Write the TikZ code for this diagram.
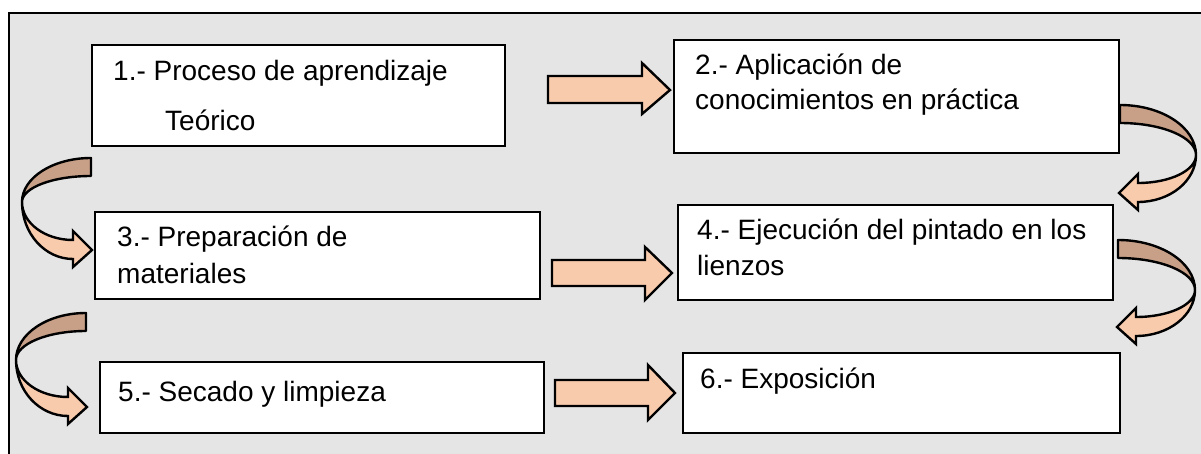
\documentclass[tikz,border=0pt]{standalone}
\usepackage{fontspec}
\setmainfont{Liberation Sans}
\definecolor{bg}{HTML}{E5E5E5}
\definecolor{peach}{HTML}{F8CBAD}
\definecolor{tan}{HTML}{C8A087}
\tikzset{
  frame/.style={draw=black, line width=2pt, fill=bg},
  box/.style={draw=black, line width=2.6pt, fill=white, inner sep=0pt},
  txt/.style={anchor=base west, inner sep=0pt, font=\fontsize{28}{33}\selectfont},
  blockarrow/.style={draw=black, line width=2.4pt, fill=peach, line join=miter},
  backband/.style={draw=black, line width=2.4pt, fill=tan, line join=round},
  frontband/.style={draw=black, line width=2.4pt, fill=peach, line join=miter}
}
% curved block arrow: #1,#2 origin (top outer end), #3 direction (1 = right, -1 = left), #4 width, #5 apex depth, #6 tip depth
\newcommand\curvedblock[6]{%
  \begin{scope}[shift={(#1,#2)}, xscale=#3]
    \pgfmathsetmacro\W{#4}\pgfmathsetmacro\A{#5}\pgfmathsetmacro\D{#6}
    \pgfmathsetmacro\T{18}\pgfmathsetmacro\hb{18}
    \pgfmathsetmacro\Bone{\D-10}\pgfmathsetmacro\Btwo{\D+9}
    \pgfmathsetmacro\Hone{\D-19}\pgfmathsetmacro\Htwo{\D+17}
    \path[backband] (0,0) .. controls (0.552*\W,0) and (\W,\A-0.552*\A) .. (\W,\A)
      .. controls (\W,\A-0.552*\A+0.552*\T) and (0.552*\W,\T) .. (0,\T) -- cycle;
    \path[frontband] (\W,\A) .. controls (\W,\A+0.552*\Btwo-0.552*\A) and (\hb+0.552*\W-0.552*\hb,\Btwo) .. (\hb,\Btwo)
      -- (\hb,\Htwo) -- (-1,\D) -- (\hb,\Hone) -- (\hb,\Bone)
      .. controls (\hb+0.552*\W-0.552*\hb,\Bone) and (\W,\A+0.552*\Bone-0.552*\A) .. (\W,\A) -- cycle;
  \end{scope}}
\begin{document}
\begin{tikzpicture}[x=1pt,y=-1pt]
\useasboundingbox (0,0) rectangle (1201,454);
\clip (0,0) rectangle (1201,454);
\path[frame] (9,13) rectangle (1220,470);
% boxes
\path[box] (92,45) rectangle (505,146) node[pos=0.5] (b1) {};
\path[box] (674,40) rectangle (1119,153) node[pos=0.5] (b2) {};
\path[box] (95,212) rectangle (540,299) node[pos=0.5] (b3) {};
\path[box] (678,205) rectangle (1113,300) node[pos=0.5] (b4) {};
\path[box] (100,362) rectangle (544,433) node[pos=0.5] (b5) {};
\path[box] (683,353) rectangle (1120,433) node[pos=0.5] (b6) {};
% texts
\node[txt] (t1a) at (113,81) {1.- Proceso de aprendizaje};
\node[txt] (t1b) at (165,131) {Teórico};
\node[txt] (t2a) at (695,75) {2.- Aplicación de};
\node[txt] (t2b) at (695,110) {conocimientos en práctica};
\node[txt] (t3a) at (117,247) {3.- Preparación de};
\node[txt] (t3b) at (117,283) {materiales};
\node[txt] (t4a) at (697,240) {4.- Ejecución del pintado en los};
\node[txt] (t4b) at (697,275) {lienzos};
\node[txt] (t5) at (118,401) {5.- Secado y limpieza};
\node[txt] (t6) at (700,388) {6.- Exposición};
% straight block arrows
\path[blockarrow] (548,76) -- (642,76) -- (642,63) -- (670,90) -- (642,114) -- (642,103) -- (548,103) -- cycle;
\path[blockarrow] (552,260) -- (645,260) -- (645,247) -- (672,273) -- (645,300) -- (645,286) -- (552,286) -- cycle;
\path[blockarrow] (555,380) -- (648,380) -- (648,365) -- (675,393) -- (648,420) -- (648,406) -- (555,406) -- cycle;
% curved block arrows
\curvedblock{91}{158}{-1}{69}{44}{92}
\curvedblock{86}{313}{-1}{70}{47}{94}
\curvedblock{1120}{105}{1}{76}{50}{88}
\curvedblock{1118}{240}{1}{77}{50}{87}
\end{tikzpicture}
\end{document}
